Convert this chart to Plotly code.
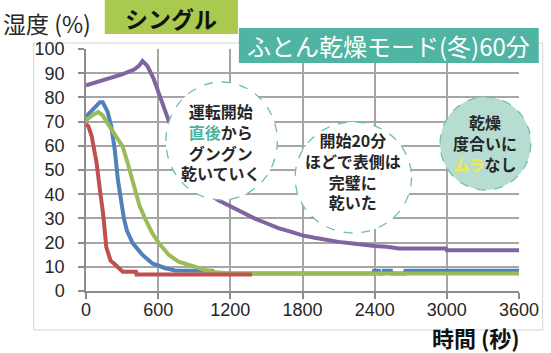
import plotly.graph_objects as go

# ---- data ----
time_red = [0, 20, 47, 88, 115, 142, 169, 190, 205, 230, 252, 280, 306, 415, 420, 1380]
hum_red = [69, 68, 64, 53, 42, 32, 18, 14, 12.5, 11.5, 10.5, 9.5, 8, 8, 6.8, 6.8]

time_blue = [0, 40, 80, 115, 140, 180, 210, 240, 265, 290, 315, 340, 388, 470, 552, 661, 740,
             1050, 1060, 2390, 2395, 2435, 2440, 2470, 2475, 2535, 2540, 2650, 2656, 3600]
hum_blue = [72, 74, 76.5, 78, 78, 74, 68, 58, 46, 37, 30, 25, 19.8, 14.9, 11.4, 9.4, 8.5,
            8.4, 7.2, 7.2, 8.4, 8.4, 7.2, 7.2, 8.4, 8.4, 7.2, 7.2, 8.4, 8.4]

time_green = [0, 50, 101, 140, 170, 224, 306, 347, 388, 429, 443, 497, 552, 607, 689, 770,
              879, 989, 1098, 1200, 3600]
hum_green = [70.5, 72.5, 74, 72.5, 70, 65.8, 59.6, 52.8, 45.9, 39, 35.5, 29.3, 23.8, 19.7,
             14.9, 12.1, 10.3, 8.7, 7.6, 7.2, 7.2]

time_purple = [0, 100, 200, 300, 400, 440, 470, 510, 560, 620, 690, 800, 900, 1000, 1100,
               1200, 1300, 1400, 1500, 1600, 1700, 1800, 1900, 2000, 2100, 2200, 2300, 2400,
               2500, 2600, 2990, 3000, 3600]
hum_purple = [85, 86.5, 88, 89.5, 91.5, 93, 95, 93, 88, 80, 70, 57, 47, 41, 37.5, 35, 32.5,
              30, 28, 26, 24.5, 23, 22, 21, 20.3, 19.7, 19, 18.6, 18.3, 17.6, 17.6, 16.8, 16.8]

x_ticks = [0, 600, 1200, 1800, 2400, 3000, 3600]
y_ticks = [0, 10, 20, 30, 40, 50, 60, 70, 80, 90, 100]

# ---- layout helpers (pixel -> paper) ----
L, R, T, B = 86, 525, 49, 291
def px(x):
    return (x - L) / (R - L)
def py(y):
    return (B - y) / (B - T)

JP = "Noto Sans CJK JP"
fig = go.Figure()
for t, h, c in [(time_purple, hum_purple, "#8064a2"),
                (time_blue, hum_blue, "#4f81bd"),
                (time_green, hum_green, "#9bbb59"),
                (time_red, hum_red, "#c0504d")]:
    fig.add_trace(go.Scatter(x=t, y=h, mode="lines", line=dict(color=c, width=4),
                             showlegend=False, hoverinfo="skip"))

shapes = [
    dict(type="rect", xref="paper", yref="paper", x0=px(33), x1=px(549), y0=py(330), y1=py(43),
         line=dict(color="#d4d4d4", width=1), layer="below"),
    dict(type="rect", xref="paper", yref="paper", x0=px(105), x1=px(240), y0=py(34), y1=py(0),
         fillcolor="#a9c94f", line=dict(width=0), layer="above"),
    dict(type="rect", xref="paper", yref="paper", x0=px(241), x1=px(545), y0=py(63), y1=py(28),
         fillcolor="#4fb5a2", line=dict(width=0), layer="above"),
    dict(type="circle", xref="paper", yref="paper", x0=px(167), x1=px(280), y0=py(200), y1=py(82),
         fillcolor="white", line=dict(color="#6dbfad", width=1.3, dash="dash"), layer="above"),
    dict(type="circle", xref="paper", yref="paper", x0=px(298), x1=px(416), y0=py(233), y1=py(122),
         fillcolor="white", line=dict(color="#6dbfad", width=1.3, dash="dash"), layer="above"),
    dict(type="circle", xref="paper", yref="paper", x0=px(445), x1=px(537), y0=py(190), y1=py(97),
         fillcolor="#b7ddd2", line=dict(color="#6dbfad", width=1.3, dash="dash"), layer="above"),
]

def ann(text, x, y, size, color="#262626", xanchor="center", weight="normal"):
    return dict(text=text, xref="paper", yref="paper", x=px(x), y=py(y), xanchor=xanchor,
                yanchor="middle", showarrow=False,
                font=dict(family=JP, size=size, color=color, weight=weight))

annotations = [
    ann("湿度 (%)", 0, 23, 23, xanchor="left"),
    ann("シングル", 172, 18, 23, color="#111111", weight="bold"),
    ann("ふとん乾燥モード(冬)60分", 393, 45, 24, color="white"),
    ann("時間 (秒)", 481, 337, 22, color="#111111", weight="bold"),
    ann("運転開始<br><span style='color:#4db3a0'>直後</span>から<br>グングン<br>乾いていく",
        223, 142, 16, weight="bold"),
    ann("開始20分<br>ほどで表側は<br>完璧に<br>乾いた", 357, 171, 16, weight="bold"),
    ann("乾燥<br>度合いに<br><span style='color:#f2ea3c'>ムラ</span>なし", 491, 143, 16, weight="bold"),
]

fig.update_layout(
    width=551, height=353,
    margin=dict(l=L, r=551 - R, t=T, b=353 - B),
    paper_bgcolor="white", plot_bgcolor="white",
    shapes=shapes, annotations=annotations,
    xaxis=dict(range=[0, 3600], tickvals=x_ticks, ticktext=[str(v) for v in x_ticks],
               showgrid=True, gridcolor="#a6a6a6", gridwidth=1.5,
               showline=True, linecolor="#8c8c8c", linewidth=1.5, zeroline=False,
               ticks="outside", ticklen=6, tickcolor="#8c8c8c", tickwidth=1.5,
               ticklabelstandoff=-4,
               tickfont=dict(family="Liberation Sans", size=18, color="#262626")),
    yaxis=dict(range=[0, 100], tickvals=y_ticks,
               showgrid=True, gridcolor="#a6a6a6", gridwidth=1.5,
               showline=True, linecolor="#8c8c8c", linewidth=1.5, zeroline=False,
               ticks="outside", ticklen=6, tickcolor="#8c8c8c", tickwidth=1.5,
               ticklabelstandoff=10,
               tickfont=dict(family="Liberation Sans", size=18, color="#262626")),
)

fig.write_html("out.html")
